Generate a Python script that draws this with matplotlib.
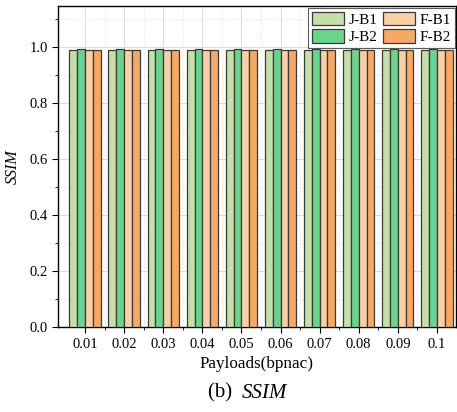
import numpy as np
import matplotlib.pyplot as plt
from matplotlib.ticker import MultipleLocator, FixedLocator

# Data
payloads = ['0.01', '0.02', '0.03', '0.04', '0.05', '0.06', '0.07', '0.08', '0.09', '0.1']
j_b1 = [0.987, 0.987, 0.987, 0.987, 0.987, 0.987, 0.987, 0.987, 0.987, 0.987]
j_b2 = [0.991, 0.991, 0.991, 0.991, 0.991, 0.991, 0.991, 0.991, 0.991, 0.991]
f_b1 = [0.988, 0.988, 0.988, 0.988, 0.988, 0.988, 0.988, 0.988, 0.988, 0.988]
f_b2 = [0.990, 0.990, 0.990, 0.990, 0.990, 0.990, 0.990, 0.990, 0.990, 0.990]

series = [('J-B1', j_b1, '#c5dfa8'), ('J-B2', j_b2, '#6bd38b'),
          ('F-B1', f_b1, '#f9cfa6'), ('F-B2', f_b2, '#f6a866')]

plt.rcParams['font.family'] = ['Liberation Serif', 'DejaVu Serif']

fig = plt.figure(figsize=(4.57, 4.12), dpi=100)
ax = fig.add_axes([0.127, 0.206, 0.871, 0.779])

x = np.arange(len(payloads))
w = 0.2
for i, (name, vals, col) in enumerate(series):
    ax.bar(x + (i - 1.5) * w, vals, w, color=col, edgecolor='#3a3a3a',
           linewidth=0.9, label=name, zorder=3)

ax.set_xlim(-0.69, 9.49)
ax.set_ylim(0, 1.145)
ax.set_xticks(x)
ax.set_xticklabels(payloads)
ax.xaxis.set_minor_locator(FixedLocator(x[:-1] + 0.5))
ax.yaxis.set_major_locator(MultipleLocator(0.2))
ax.yaxis.set_minor_locator(MultipleLocator(0.1))
ax.yaxis.set_major_formatter(plt.FuncFormatter(lambda v, p: f'{v:.1f}'))

ax.grid(True, which='major', color='#dcdcdc', linewidth=0.8, zorder=0)
ax.grid(True, which='minor', color='#e4e4e4', linewidth=0.8, linestyle=':', zorder=0)

ax.tick_params(axis='both', which='major', direction='out', length=4, labelsize=10.5)
ax.tick_params(axis='both', which='minor', direction='out', length=2.5)
for s in ax.spines.values():
    s.set_linewidth(1.0)

ax.set_xlabel('Payloads(bpnac)', fontsize=12.3, labelpad=4)
ax.set_ylabel('SSIM', fontsize=11.5, style='italic', labelpad=6)

leg = ax.legend(loc='upper right', ncol=2, fontsize=11, frameon=True, fancybox=False,
                edgecolor='#333333', handlelength=2.1, handleheight=1.0,
                columnspacing=0.35, handletextpad=0.3, borderpad=0.25,
                labelspacing=0.15, borderaxespad=0.1)
leg.get_frame().set_linewidth(0.8)

fig.text(0.53, 0.022, '(b)  ', fontsize=15, ha='right', va='bottom')
fig.text(0.53, 0.022, 'SSIM', fontsize=15, style='italic', ha='left', va='bottom')

fig.savefig('out.png', dpi=100)
